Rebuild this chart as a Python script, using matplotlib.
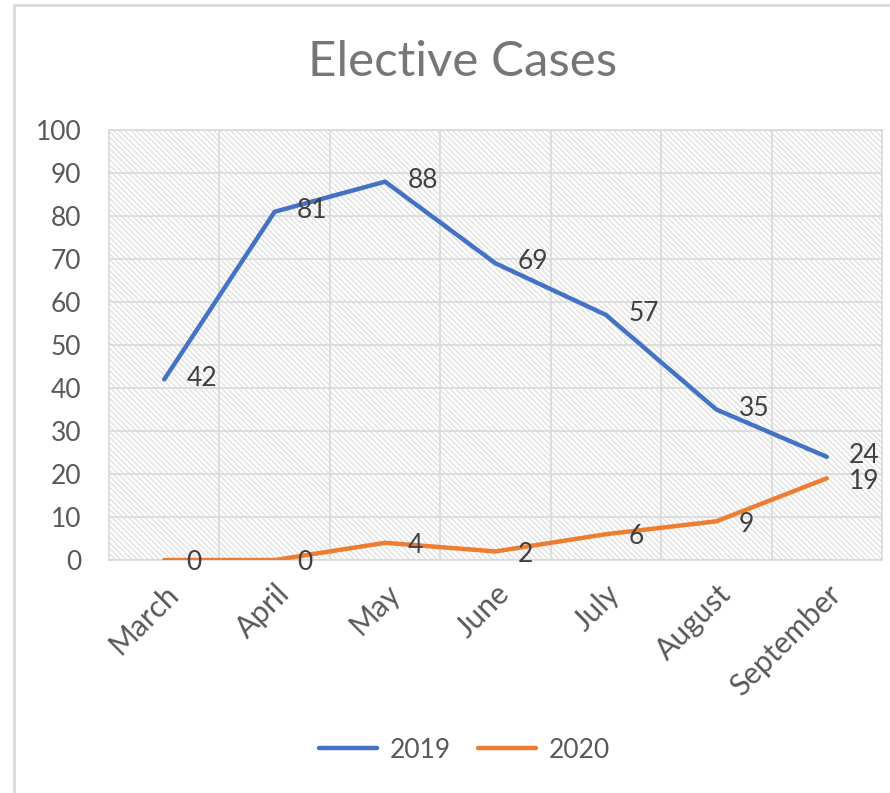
import matplotlib.pyplot as plt
from matplotlib.patches import Rectangle

months = ["March", "April", "May", "June", "July", "August", "September"]
cases_2019 = [42, 81, 88, 69, 57, 35, 24]
cases_2020 = [0, 0, 4, 2, 6, 9, 19]

plt.rcParams['font.family'] = ['Lato', 'DejaVu Sans']
plt.rcParams['hatch.linewidth'] = 0.9
plt.rcParams['hatch.color'] = '#dedede'

fig = plt.figure(figsize=(8.9, 7.93), dpi=100)
ax = fig.add_axes([0.1225, 0.2938, 0.8685, 0.5422])

# hatched plot area
ax.add_patch(Rectangle((0, 0), 1, 1, transform=ax.transAxes,
                       facecolor='white', edgecolor='#dedede',
                       hatch='\\' * 6, linewidth=0, zorder=0))

x = list(range(len(months)))
ax.plot(x, cases_2019, color='#4472C4', lw=3.2, label='2019',
        solid_capstyle='round', zorder=3)
ax.plot(x, cases_2020, color='#ED7D31', lw=3.2, label='2020',
        solid_capstyle='round', zorder=3)

for xi, v in zip(x, cases_2019):
    ax.annotate(str(v), (xi, v), xytext=(16, 1), textcoords='offset points',
                ha='left', va='center', fontsize=19, color='#404040', zorder=4)
for xi, v in zip(x, cases_2020):
    ax.annotate(str(v), (xi, v), xytext=(16, -2), textcoords='offset points',
                ha='left', va='center', fontsize=19, color='#404040', zorder=4)

ax.set_xlim(-0.5, len(months) - 0.5)
ax.set_ylim(0, 100)
ax.set_yticks(range(0, 101, 10))
ax.set_xticks(x)
ax.set_xticklabels(months, rotation=45, ha='right', rotation_mode='anchor')
ax.set_xticks([i + 0.5 for i in x[:-1]] + [i for i in x], minor=True)

ax.grid(True, which='major', axis='y', color='#d9d9d9', lw=1.2, zorder=1)
ax.grid(True, which='minor', axis='x', color='#d9d9d9', lw=1.2, zorder=1)
ax.set_axisbelow(True)
ax.tick_params(axis='both', which='both', length=0, labelsize=19,
               labelcolor='#595959')
ax.tick_params(axis='x', labelsize=21.5, pad=14)
ax.tick_params(axis='y', pad=20)
for s in ax.spines.values():
    s.set_color('#d9d9d9')
    s.set_linewidth(1.2)

fig.text(0.52, 0.922, "Elective Cases", ha='center', va='center',
         fontsize=35.5, color='#767676')

fig.legend(loc='center', bbox_to_anchor=(0.522, 0.054), ncol=2, frameon=False,
           fontsize=19, labelcolor='#595959', handlelength=2.2,
           columnspacing=1.0, handletextpad=0.5)

# chart frame
fig.add_artist(Rectangle((0.016, -0.01), 1.0, 1.0 - 0.006 + 0.01,
                         transform=fig.transFigure, fill=False,
                         edgecolor='#d9d9d9', lw=2))

fig.savefig("out.png", dpi=100)
